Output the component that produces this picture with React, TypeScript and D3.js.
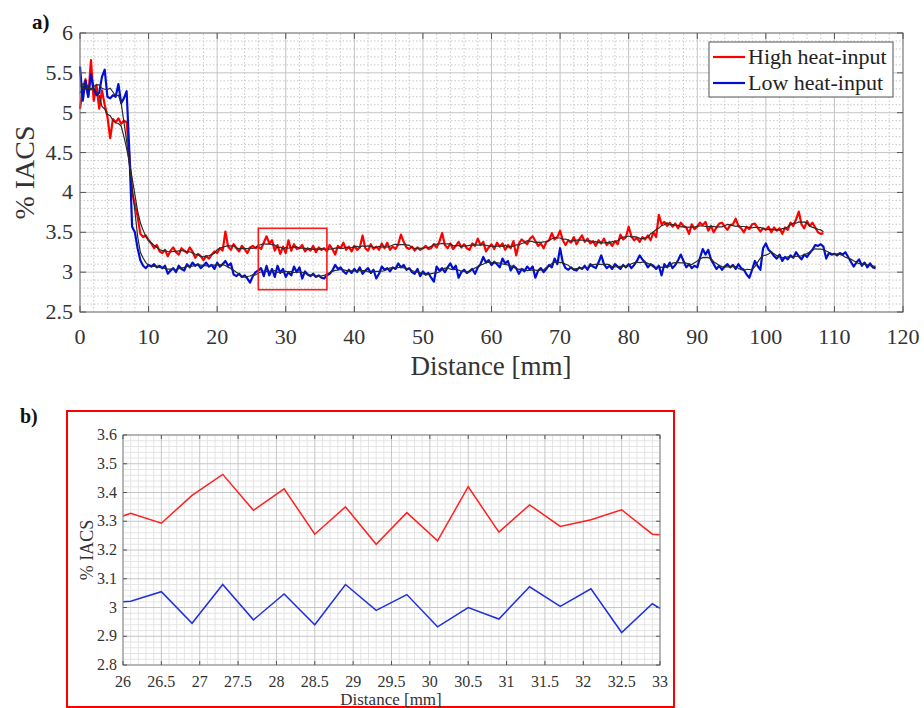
import React from "react";
import * as d3 from "d3";

// sampling interval of the profiles [mm]
const STEP = 0.4;

// % IACS, high heat-input profile, one value every STEP mm from 0
const highHeat = [
  5.05, 5.30, 5.42, 5.20, 5.66, 5.15, 5.35, 5.05, 5.28, 5.10,
  4.95, 4.68, 4.92, 4.88, 4.93, 4.86, 4.90, 4.88, 4.45, 4.00,
  3.85, 3.70, 3.48, 3.44, 3.46, 3.40, 3.36, 3.30, 3.34, 3.26,
  3.24, 3.28, 3.20, 3.27, 3.31, 3.25, 3.22, 3.30, 3.27, 3.24,
  3.31, 3.26, 3.18, 3.23, 3.20, 3.15, 3.20, 3.17, 3.22, 3.26,
  3.24, 3.30, 3.27, 3.51, 3.32, 3.28, 3.35, 3.30, 3.26, 3.33,
  3.29, 3.24, 3.31, 3.33, 3.30, 3.32, 3.29, 3.37, 3.45, 3.36,
  3.40, 3.27, 3.34, 3.23, 3.32, 3.24, 3.40, 3.27, 3.35, 3.29,
  3.30, 3.34, 3.26, 3.30, 3.27, 3.33, 3.25, 3.31, 3.28, 3.30,
  3.26, 3.34, 3.29, 3.22, 3.33, 3.30, 3.37, 3.28, 3.32, 3.26,
  3.33, 3.28, 3.31, 3.46, 3.30, 3.27, 3.35, 3.29, 3.32, 3.28,
  3.36, 3.30, 3.37, 3.28, 3.32, 3.29, 3.35, 3.47, 3.38, 3.31,
  3.29, 3.32, 3.27, 3.31, 3.28, 3.30, 3.33, 3.29, 3.30, 3.35,
  3.31, 3.38, 3.49, 3.34, 3.30, 3.36, 3.29, 3.33, 3.38, 3.31,
  3.35, 3.30, 3.28, 3.36, 3.33, 3.42, 3.34, 3.38, 3.26, 3.31,
  3.35, 3.29, 3.37, 3.32, 3.36, 3.28, 3.34, 3.30, 3.39, 3.21,
  3.36, 3.41, 3.38, 3.35, 3.42, 3.45, 3.39, 3.33, 3.36, 3.30,
  3.38, 3.40, 3.49, 3.41, 3.44, 3.52, 3.40, 3.34, 3.40, 3.37,
  3.44, 3.35, 3.41, 3.46, 3.38, 3.42, 3.36, 3.39, 3.33, 3.40,
  3.36, 3.42, 3.34, 3.38, 3.33, 3.39, 3.35, 3.47, 3.41, 3.44,
  3.57, 3.45, 3.40, 3.43, 3.38, 3.44, 3.41, 3.46, 3.40, 3.50,
  3.44, 3.72, 3.60, 3.63, 3.58, 3.62, 3.57, 3.61, 3.55, 3.62,
  3.58, 3.56, 3.48, 3.60, 3.54, 3.57, 3.62, 3.59, 3.63, 3.52,
  3.58, 3.50, 3.56, 3.61, 3.62, 3.57, 3.53, 3.59, 3.60, 3.67,
  3.58, 3.55, 3.50, 3.57, 3.54, 3.60, 3.61, 3.56, 3.51, 3.55,
  3.53, 3.57, 3.50, 3.56, 3.52, 3.55, 3.48, 3.56, 3.53, 3.62,
  3.58, 3.66, 3.76, 3.60, 3.55, 3.64, 3.58, 3.62, 3.56, 3.50,
  3.48, 3.49,
];

// % IACS, low heat-input profile, one value every STEP mm from 0
const lowHeat = [
  5.58, 5.15, 5.40, 5.20, 5.48, 5.30, 5.22, 5.25, 5.45, 5.54,
  5.20, 5.18, 5.22, 5.20, 5.36, 5.12, 5.18, 5.27, 4.50, 3.57,
  3.50, 3.30, 3.15, 3.08, 3.05, 3.09, 3.07, 3.10, 3.06, 3.08,
  3.05, 3.08, 2.98, 3.02, 3.05, 3.00, 3.08, 3.04, 3.02, 3.10,
  3.06, 3.12, 3.08, 3.10, 3.05, 3.08, 3.12, 3.07, 3.09, 3.04,
  3.12, 3.07, 3.10, 3.14, 3.08, 3.11, 2.97, 2.95, 2.98, 2.94,
  2.96, 2.92, 2.87, 2.95, 3.00, 3.02, 3.05, 2.95, 3.08, 2.96,
  3.04, 2.94, 3.08, 2.99, 3.04, 2.94, 3.00, 2.96, 3.07, 3.00,
  3.06, 2.92, 3.01, 2.97, 2.95, 2.98, 2.94, 2.96, 2.93, 2.92,
  2.96, 2.98, 3.02, 3.09, 3.04, 3.06, 3.01, 2.98, 3.03, 2.99,
  3.04, 3.00, 3.06, 2.98, 3.02, 3.05, 2.99, 3.03, 2.92, 2.98,
  3.07, 3.03, 3.05, 3.01, 3.06, 3.04, 3.11, 3.06, 3.09, 3.03,
  3.05, 3.00, 2.98, 3.04, 2.95, 3.01, 2.97, 2.99, 2.93, 2.88,
  3.07, 3.02, 3.05, 3.00, 3.06, 3.11, 3.04, 3.08, 2.93, 3.00,
  3.03, 2.99, 3.01, 3.04, 2.98, 3.06, 3.10, 3.19, 3.12, 3.15,
  3.09, 3.13, 3.10, 3.06, 3.17, 3.11, 3.14, 3.02, 3.08, 3.05,
  2.98, 3.04, 3.01, 3.07, 3.03, 3.07, 2.93, 3.02, 3.05, 3.00,
  3.04, 3.09, 3.06, 3.17, 3.10, 3.30, 3.12, 3.05, 3.03, 3.06,
  3.03, 3.02, 3.06, 3.04, 3.08, 3.03, 3.10, 3.07, 3.05, 3.12,
  3.21, 3.10, 3.05, 3.08, 3.04, 3.10, 3.07, 3.04, 3.09, 3.06,
  3.10, 3.05, 3.09, 3.14, 3.21, 3.16, 3.12, 3.06, 3.10, 3.08,
  3.04, 3.08, 2.96, 3.10, 3.06, 3.12, 3.05, 3.09, 3.15, 3.22,
  3.14, 3.06, 3.10, 3.05, 3.08, 3.06, 3.18, 3.29, 3.22, 3.28,
  3.16, 3.10, 3.04, 3.08, 3.03, 3.07, 3.10, 3.06, 3.09, 3.04,
  3.10, 3.05, 3.03, 2.97, 2.93, 3.03, 3.14, 3.08, 3.03, 3.30,
  3.36, 3.28, 3.25, 3.20, 3.17, 3.22, 3.14, 3.19, 3.16, 3.21,
  3.18, 3.25, 3.20, 3.16, 3.22, 3.19, 3.24, 3.28, 3.34, 3.33,
  3.35, 3.32, 3.17, 3.24, 3.22, 3.23, 3.21, 3.24, 3.22, 3.25,
  3.19, 3.13, 3.07, 3.12, 3.16, 3.08, 3.12, 3.06, 3.11, 3.06,
  3.05,
];

// zoomed window b)
const zoomDistance = [26, 26.1, 26.5, 26.9, 27.3, 27.7, 28.1, 28.5, 28.9, 29.3, 29.7, 30.1, 30.5, 30.9, 31.3, 31.7, 32.1, 32.5, 32.9, 33];
const zoomHigh = [3.318, 3.328, 3.293, 3.39, 3.463, 3.338, 3.413, 3.255, 3.35, 3.22, 3.33, 3.232, 3.42, 3.262, 3.357, 3.282, 3.305, 3.34, 3.255, 3.253];
const zoomLow = [3.02, 3.022, 3.055, 2.945, 3.08, 2.957, 3.047, 2.94, 3.08, 2.99, 3.045, 2.933, 3.0, 2.96, 3.072, 3.004, 3.065, 2.913, 3.013, 2.997];

const xTicksA = [0, 10, 20, 30, 40, 50, 60, 70, 80, 90, 100, 110, 120];
const yTicksA = [2.5, 3, 3.5, 4, 4.5, 5, 5.5, 6];
const xTicksB = [26, 26.5, 27, 27.5, 28, 28.5, 29, 29.5, 30, 30.5, 31, 31.5, 32, 32.5, 33];
const yTicksB = [2.8, 2.9, 3, 3.1, 3.2, 3.3, 3.4, 3.5, 3.6];

const series = [
  { name: "High heat-input", values: highHeat, color: "#ff0000" },
  { name: "Low heat-input", values: lowHeat, color: "#0010d0" },
];

const FONT = "'Liberation Serif', 'Times New Roman', serif";

// running mean, like the black trend lines in the figure
const smooth = (v: number[], k = 3) =>
  v.map((_, i) => d3.mean(v.slice(Math.max(0, i - k), i + k + 1)) as number);

const PanelA = () => {
  const x = d3.scaleLinear().domain([0, 120]).range([80, 903]);
  const y = d3.scaleLinear().domain([2.5, 6]).range([312, 33]);
  const line = d3.line<number>().x((_, i) => x(i * STEP)).y((d) => y(d));
  const minorX = d3.range(0, 120, 2).filter((v) => v % 10 !== 0);
  const minorY = d3.range(25, 60, 1).filter((v) => v % 5 !== 0).map((v) => v / 10);

  return (
    <g fontFamily={FONT}>
      {minorX.map((t) => (
        <line key={"mx" + t} x1={x(t)} x2={x(t)} y1={y(2.5)} y2={y(6)} stroke="#c8c8c8" strokeDasharray="1.5,2" />
      ))}
      {minorY.map((t) => (
        <line key={"my" + t} x1={x(0)} x2={x(120)} y1={y(t)} y2={y(t)} stroke="#c8c8c8" strokeDasharray="1.5,2" />
      ))}
      {xTicksA.map((t) => (
        <line key={"gx" + t} x1={x(t)} x2={x(t)} y1={y(2.5)} y2={y(6)} stroke="#c4c4c4" />
      ))}
      {yTicksA.map((t) => (
        <line key={"gy" + t} x1={x(0)} x2={x(120)} y1={y(t)} y2={y(t)} stroke="#c4c4c4" />
      ))}

      {series.map((s) => (
        <path key={s.name} d={line(s.values) ?? ""} fill="none" stroke={s.color} strokeWidth={2.2} strokeLinejoin="round" />
      ))}
      {series.map((s) => (
        <path key={s.name + "-trend"} d={line(smooth(s.values)) ?? ""} fill="none" stroke="#2a2a2a" strokeWidth={1.2} />
      ))}

      <rect x={x(26)} y={y(3.55)} width={x(36) - x(26)} height={y(2.78) - y(3.55)} fill="none" stroke="#ff1a1a" strokeWidth={1.6} />

      <rect x={x(0)} y={y(6)} width={x(120) - x(0)} height={y(2.5) - y(6)} fill="none" stroke="#7a7a7a" />
      {xTicksA.map((t) => (
        <g key={"tx" + t}>
          <line x1={x(t)} x2={x(t)} y1={y(2.5)} y2={y(2.5) - 6} stroke="#555" />
          <line x1={x(t)} x2={x(t)} y1={y(6)} y2={y(6) + 6} stroke="#555" />
          <text x={x(t)} y={344} textAnchor="middle" fontSize={22} fill="#333">{t}</text>
        </g>
      ))}
      {yTicksA.map((t) => (
        <g key={"ty" + t}>
          <line x1={x(0)} x2={x(0) + 6} y1={y(t)} y2={y(t)} stroke="#555" />
          <line x1={x(120)} x2={x(120) - 6} y1={y(t)} y2={y(t)} stroke="#555" />
          <text x={73} y={y(t) + 7} textAnchor="end" fontSize={22} fill="#333">{t}</text>
        </g>
      ))}
      <text x={491} y={375} textAnchor="middle" fontSize={27} fill="#333">Distance [mm]</text>
      <text transform={`translate(34,${y(4.25)}) rotate(-90)`} textAnchor="middle" fontSize={28} fill="#333">% IACS</text>
      <text x={32} y={29} fontSize={21} fontWeight="bold" fill="#111">a)</text>

      <g transform="translate(709,42)">
        <rect width={184} height={55} fill="#fff" stroke="#555" />
        {series.map((s, i) => (
          <g key={s.name} transform={`translate(0,${15 + i * 26})`}>
            <line x1={4} x2={36} y1={0} y2={0} stroke={s.color} strokeWidth={2.2} />
            <text x={39} y={7} fontSize={22} fill="#222">{s.name}</text>
          </g>
        ))}
      </g>
    </g>
  );
};

const PanelB = () => {
  const x = d3.scaleLinear().domain([26, 33]).range([123, 660]);
  const y = d3.scaleLinear().domain([2.8, 3.6]).range([665, 435]);
  const line = d3.line<number>().x((_, i) => x(zoomDistance[i])).y((d) => y(d));
  const minorX = d3.range(260, 330, 1).filter((v) => v % 5 !== 0).map((v) => v / 10);
  const minorY = d3.range(140, 180, 1).filter((v) => v % 5 !== 0).map((v) => v / 50);

  return (
    <g fontFamily={FONT}>
      <rect x={67} y={411} width={607} height={296} fill="none" stroke="#ff0000" strokeWidth={2} />
      {minorX.map((t) => (
        <line key={"mx" + t} x1={x(t)} x2={x(t)} y1={y(2.8)} y2={y(3.6)} stroke="#e4e4e4" />
      ))}
      {minorY.map((t) => (
        <line key={"my" + t} x1={x(26)} x2={x(33)} y1={y(t)} y2={y(t)} stroke="#e4e4e4" />
      ))}
      {xTicksB.map((t) => (
        <line key={"gx" + t} x1={x(t)} x2={x(t)} y1={y(2.8)} y2={y(3.6)} stroke="#c6c6c6" />
      ))}
      {yTicksB.map((t) => (
        <line key={"gy" + t} x1={x(26)} x2={x(33)} y1={y(t)} y2={y(t)} stroke="#c6c6c6" />
      ))}

      <path d={line(zoomHigh) ?? ""} fill="none" stroke="#ff2020" strokeWidth={1.5} />
      <path d={line(zoomLow) ?? ""} fill="none" stroke="#2030dd" strokeWidth={1.5} />

      <rect x={x(26)} y={y(3.6)} width={x(33) - x(26)} height={y(2.8) - y(3.6)} fill="none" stroke="#8a8a8a" />
      {xTicksB.map((t) => (
        <g key={"tx" + t}>
          <line x1={x(t)} x2={x(t)} y1={y(2.8)} y2={y(2.8) - 4} stroke="#555" />
          <line x1={x(t)} x2={x(t)} y1={y(3.6)} y2={y(3.6) + 4} stroke="#555" />
          <text x={x(t)} y={687} textAnchor="middle" fontSize={16} fill="#333">{t}</text>
        </g>
      ))}
      {yTicksB.map((t) => (
        <g key={"ty" + t}>
          <line x1={x(26)} x2={x(26) + 4} y1={y(t)} y2={y(t)} stroke="#555" />
          <line x1={x(33)} x2={x(33) - 4} y1={y(t)} y2={y(t)} stroke="#555" />
          <text x={117} y={y(t) + 5} textAnchor="end" fontSize={16} fill="#333">{t}</text>
        </g>
      ))}
      <text x={391} y={705} textAnchor="middle" fontSize={17} fill="#333">Distance [mm]</text>
      <text transform={`translate(93,${y(3.2)}) rotate(-90)`} textAnchor="middle" fontSize={18} fill="#333">% IACS</text>
      <text x={20} y={423} fontSize={20} fontWeight="bold" fill="#111">b)</text>
    </g>
  );
};

export default function App() {
  return (
    <svg width={924} height={708} style={{ position: "absolute", left: 0, top: 0, background: "#fff" }}>
      <PanelA />
      <PanelB />
    </svg>
  );
}
